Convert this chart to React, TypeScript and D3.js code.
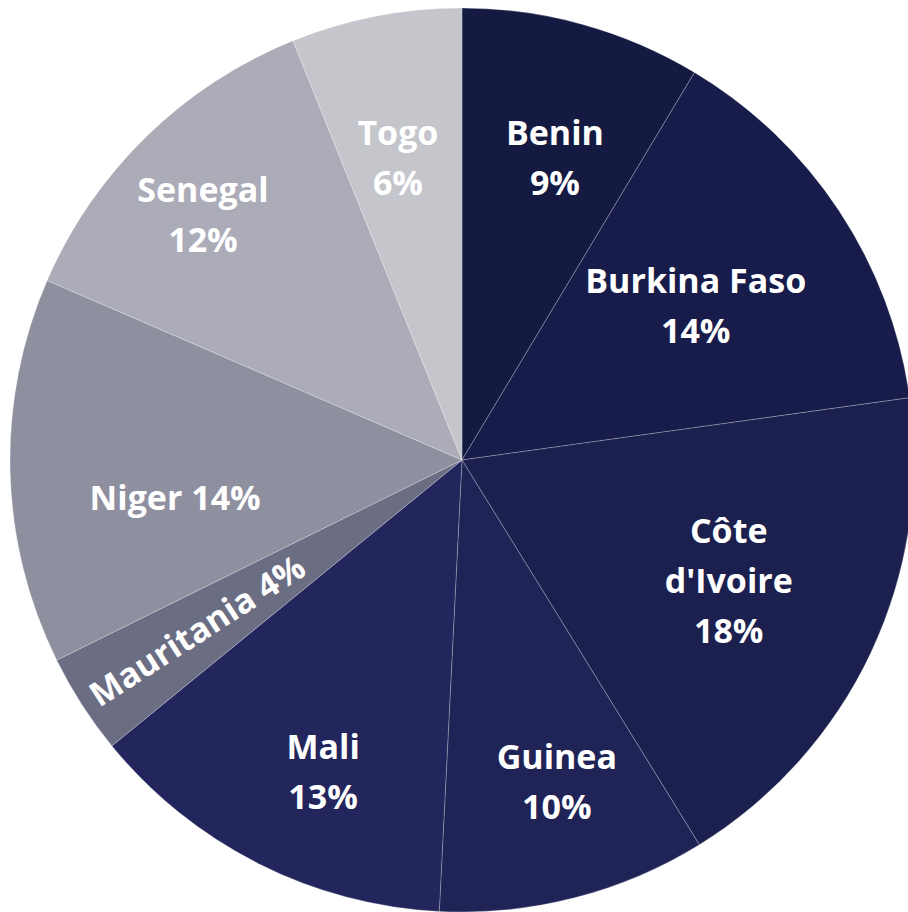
import { useMemo } from "react";
import * as d3 from "d3";

const categories = [
  "Benin",
  "Burkina Faso",
  "Côte d'Ivoire",
  "Guinea",
  "Mali",
  "Mauritania",
  "Niger",
  "Senegal",
  "Togo",
];
const shares = [8.6, 14.2, 18.4, 9.6, 13.3, 3.6, 13.8, 12.4, 6.1];
const colors = [
  "#141a42",
  "#181c4a",
  "#1c204f",
  "#1f2356",
  "#22265c",
  "#6b6d83",
  "#8f909f",
  "#acacb8",
  "#c5c5cc",
];

const WIDTH = 908;
const HEIGHT = 912;
const CX = 462;
const CY = 460;
const RADIUS = 452;
const FONT = 34;
const LINE_H = 50;
// label placement, slice by slice: distance as a share of the radius,
// and a small turn (degrees) away from the slice's middle
const LABEL_R = [0.7, 0.62, 0.648, 0.743, 0.755, 0.697, 0.64, 0.789, 0.683];
const LABEL_TURN = [1.6, 0, -0.8, -2, -2.8, 0, -6, -2.3, -1];

// how each label is laid out (stacked lines, one line, or turned along the slice)
const labelLines = (name: string, pct: string): string[] => {
  if (name === "Côte d'Ivoire") return ["Côte", "d'Ivoire", pct];
  if (name === "Niger" || name === "Mauritania") return [`${name} ${pct}`];
  return [name, pct];
};

export default function App() {
  const arcs = useMemo(() => {
    const pie = d3
      .pie<number>()
      .sort(null)
      .value((d) => d);
    return pie(shares);
  }, []);

  const arcGen = d3.arc<d3.PieArcDatum<number>>().innerRadius(0).outerRadius(RADIUS);
  const total = d3.sum(shares);

  return (
    <svg
      width={WIDTH}
      height={HEIGHT}
      style={{ position: "absolute", left: 0, top: 0, display: "block" }}
    >
      <rect width={WIDTH} height={HEIGHT} fill="#ffffff" />
      <g transform={`translate(${CX}, ${CY})`}>
        {arcs.map((a, i) => (
          <path
            key={categories[i]}
            d={arcGen(a) || ""}
            fill={colors[i]}
            stroke="rgba(255,255,255,0.3)"
            strokeWidth={0.8}
          />
        ))}
        {arcs.map((a, i) => {
          const mid = (a.startAngle + a.endAngle) / 2;
          const ang = mid + (LABEL_TURN[i] * Math.PI) / 180;
          const r = RADIUS * LABEL_R[i];
          const x = Math.sin(ang) * r;
          const y = -Math.cos(ang) * r;
          const pct = `${Math.round((shares[i] / total) * 100)}%`;
          const lines = labelLines(categories[i], pct);
          const rotated = categories[i] === "Mauritania";
          const rot = rotated ? (mid * 180) / Math.PI - 270 : 0;
          return (
            <text
              key={categories[i]}
              transform={`translate(${x}, ${y}) rotate(${rot})`}
              fill="#ffffff"
              fontFamily="'Open Sans', 'Noto Sans', sans-serif"
              fontWeight={700}
              fontSize={FONT}
              textAnchor="middle"
            >
              {lines.map((l, j) => (
                <tspan
                  key={j}
                  x={0}
                  y={(j - (lines.length - 1) / 2) * LINE_H}
                  dy="0.36em"
                >
                  {l}
                </tspan>
              ))}
            </text>
          );
        })}
      </g>
    </svg>
  );
}
